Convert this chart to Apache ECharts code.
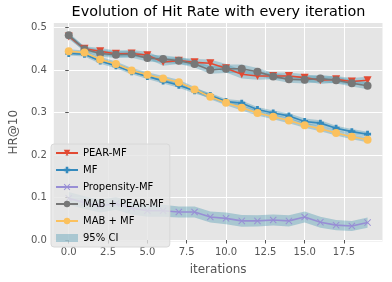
<!DOCTYPE html>
<html>
<head>
<meta charset="utf-8">
<script src="https://cdn.jsdelivr.net/npm/echarts@6/dist/echarts.min.js"></script>
<style>html,body{margin:0;padding:0;background:#fff}#c{width:392px;height:282px}</style>
</head>
<body>
<div id="c"></div>
<script>
var iterations = [0,1,2,3,4,5,6,7,8,9,10,11,12,13,14,15,16,17,18,19];
var pearMF     = [0.479,0.450,0.444,0.438,0.439,0.435,0.419,0.422,0.418,0.416,0.404,0.390,0.386,0.386,0.386,0.382,0.376,0.378,0.373,0.376];
var mf         = [0.439,0.437,0.421,0.410,0.396,0.385,0.374,0.364,0.351,0.340,0.326,0.322,0.307,0.299,0.292,0.279,0.275,0.263,0.255,0.249];
var propensity = [0.098,0.088,0.080,0.086,0.075,0.069,0.069,0.066,0.066,0.054,0.051,0.045,0.045,0.047,0.045,0.054,0.042,0.035,0.033,0.041];
var mabPearMF  = [0.482,0.449,0.439,0.436,0.437,0.428,0.426,0.422,0.414,0.400,0.403,0.403,0.396,0.385,0.378,0.377,0.380,0.376,0.369,0.363];
var mabMF      = [0.444,0.441,0.425,0.414,0.399,0.389,0.380,0.371,0.354,0.337,0.323,0.311,0.299,0.290,0.281,0.270,0.262,0.252,0.243,0.236];
// 95% CI half-widths
var ciPearMF     = [0.006,0.006,0.008,0.008,0.008,0.008,0.009,0.008,0.008,0.009,0.010,0.010,0.009,0.008,0.008,0.008,0.009,0.008,0.008,0.008];
var ciMF         = [0.005,0.005,0.006,0.006,0.006,0.006,0.006,0.006,0.006,0.006,0.006,0.006,0.006,0.006,0.006,0.007,0.007,0.006,0.006,0.006];
var ciPropensity = [0.015,0.015,0.015,0.015,0.015,0.014,0.014,0.013,0.013,0.013,0.014,0.014,0.013,0.013,0.013,0.013,0.013,0.012,0.012,0.012];
var ciMabPearMF  = [0.006,0.006,0.008,0.008,0.008,0.008,0.009,0.008,0.008,0.009,0.010,0.010,0.009,0.008,0.008,0.009,0.009,0.008,0.008,0.008];
var ciMabMF      = [0.005,0.005,0.006,0.006,0.006,0.006,0.006,0.006,0.006,0.006,0.006,0.006,0.006,0.006,0.006,0.006,0.006,0.006,0.006,0.006];
var xTicks = [0, 2.5, 5, 7.5, 10, 12.5, 15, 17.5];
var yTicks = [0, 0.1, 0.2, 0.3, 0.4, 0.5];

var names = ['PEAR-MF','MF','Propensity-MF','MAB + PEAR-MF','MAB + MF'];
var values = [pearMF, mf, propensity, mabPearMF, mabMF];
var cis = [ciPearMF, ciMF, ciPropensity, ciMabPearMF, ciMabMF];
var colors = ['#E24A33','#348ABD','#988ED5','#777777','#FBC15E'];
var symbols = ['triangle','path://M3,0H7V3H10V7H7V10H3V7H0V3H3Z','path://M0,1L1,0L5,4L9,0L10,1L6,5L10,9L9,10L5,6L1,10L0,9L4,5Z','circle','circle'];
var symRot = [180,0,0,0,0];
var symSize = [8,7,7,8,8];
var bandColor = 'rgba(70,150,175,0.38)';
var font = 'DejaVu Sans';

function pairs(arr){ return iterations.map(function(x,i){ return [x, arr[i]]; }); }

var series = [];
values.forEach(function(v, k){
  var band = iterations.map(function(x,i){ return [x, v[i]-cis[k][i], v[i]+cis[k][i]]; });
  series.push({type:'custom', name:'95% CI', data:band, silent:true, z:1,
    itemStyle:{color:bandColor},
    encode:{x:0, y:[1,2]},
    renderItem:function(params, api){
      if (params.dataIndex !== 0) return null;
      var up = [], lo = [];
      for (var i = 0; i < band.length; i++) {
        up.push(api.coord([band[i][0], band[i][2]]));
        lo.push(api.coord([band[i][0], band[i][1]]));
      }
      return {type:'polygon', shape:{points:up.concat(lo.reverse())}, style:{fill:bandColor}};
    }});
});
values.forEach(function(v, k){
  series.push({type:'line', name:names[k], data:pairs(v), symbol:symbols[k], symbolSize:symSize[k],
    symbolRotate:symRot[k], showSymbol:true, color:colors[k], itemStyle:{color:colors[k]},
    lineStyle:{color:colors[k], width:1.6}, z:3});
});

var chart = echarts.init(document.getElementById('c'), null, {renderer:'canvas'});
chart.setOption({
  animation:false,
  backgroundColor:'#fff',
  title:{text:'Evolution of Hit Rate with every iteration', left:213.5, textAlign:'center', top:0,
    textStyle:{fontFamily:font, fontSize:14.4, fontWeight:'normal', color:'#000'}},
  grid:{left:47, right:9.5, top:23, bottom:40.5, show:true, backgroundColor:'#E5E5E5', borderWidth:0},
  xAxis:{type:'value', min:-0.95, max:19.95,
    name:'iterations', nameLocation:'middle', nameGap:22,
    nameTextStyle:{fontFamily:font, fontSize:12, color:'#555555'},
    axisLine:{show:false},
    axisTick:{show:true, length:3.5, customValues:xTicks, lineStyle:{color:'#555555', width:1}},
    axisLabel:{customValues:xTicks, margin:6, fontFamily:font, fontSize:10, color:'#555555',
      formatter:function(v){ return v.toFixed(1); }},
    splitLine:{show:true, lineStyle:{color:'#ffffff', width:1}}},
  yAxis:{type:'value', min:-0.0035, max:0.5106,
    name:'HR@10', nameLocation:'middle', nameGap:28,
    nameTextStyle:{fontFamily:font, fontSize:12, color:'#555555'},
    axisLine:{show:false},
    axisTick:{show:true, length:3.5, customValues:yTicks, lineStyle:{color:'#555555', width:1}},
    axisLabel:{customValues:yTicks, margin:7, fontFamily:font, fontSize:10, color:'#555555',
      formatter:function(v){ return v.toFixed(1); }},
    splitLine:{show:true, lineStyle:{color:'#ffffff', width:1}}},
  legend:{orient:'vertical', left:51, top:144, itemWidth:22, itemHeight:8, itemGap:7,
    padding:[4,6,4,4], backgroundColor:'rgba(229,229,229,0.8)', borderColor:'#d8d8d8', borderWidth:1, borderRadius:3,
    textStyle:{fontFamily:font, fontSize:10, color:'#000'},
    data:[
      {name:'PEAR-MF'},{name:'MF'},{name:'Propensity-MF'},{name:'MAB + PEAR-MF'},{name:'MAB + MF'},
      {name:'95% CI', icon:'rect', itemStyle:{color:bandColor}}
    ]},
  series:series
});
</script>
</body>
</html>
